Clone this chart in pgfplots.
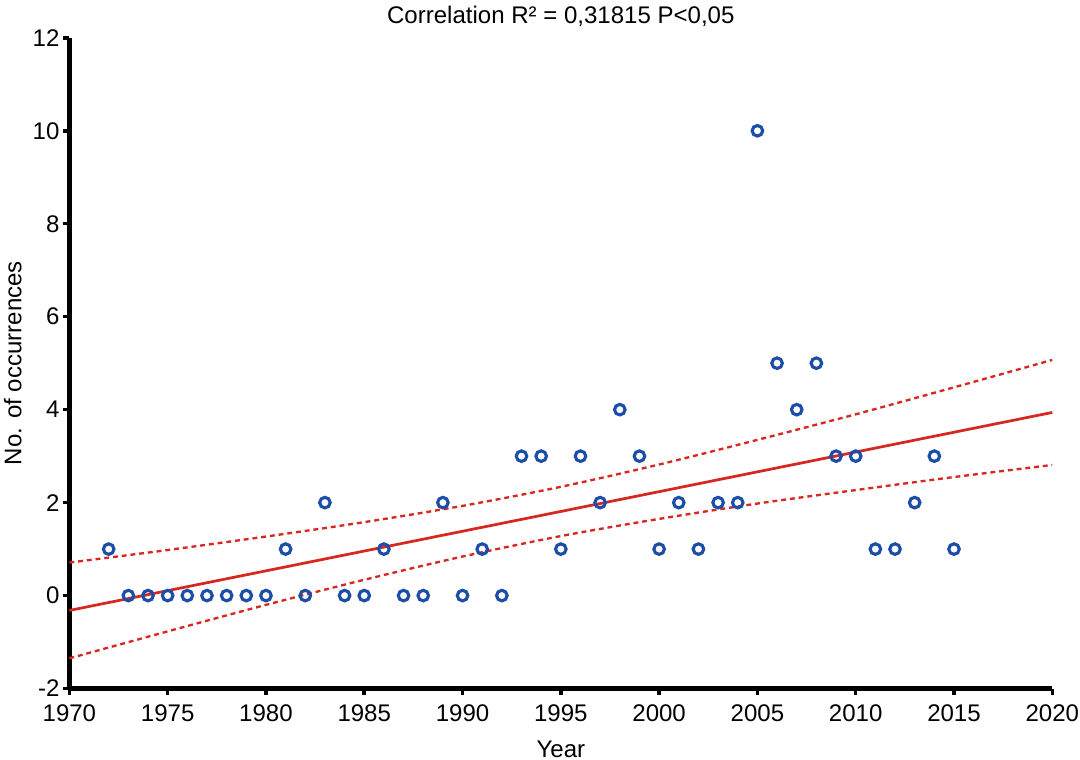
\documentclass[border=0pt]{standalone}
\usepackage{fontspec}
\setmainfont{Liberation Sans}
\usepackage{pgfplots}
\pgfplotsset{compat=1.18}
\definecolor{ptblue}{RGB}{28,78,168}
\definecolor{fitred}{RGB}{214,40,32}

\begin{document}
\begin{tikzpicture}
\begin{axis}[
    scale only axis,
    width=503pt, height=333pt,
    xmin=1970, xmax=2020,
    ymin=-2, ymax=12,
    xtick={1970,1975,...,2020},
    ytick={-2,0,...,12},
    axis x line*=bottom,
    axis y line*=left,
    axis line style={line width=2.2pt},
    tick style={line width=1.8pt, black},
    tick align=outside,
    major tick length=3.4pt,
    x tick label style={/pgf/number format/1000 sep={}, yshift=-1.5pt, inner xsep=0.5pt},
    y tick label style={xshift=-0.5pt, inner xsep=1pt},
    /pgf/number format/assume math mode=true,
    tick label style={font=\fontsize{12.3}{14}\selectfont},
    label style={font=\fontsize{12.3}{14}\selectfont},
    xlabel={Year},
    ylabel={No. of occurrences},
    xlabel style={yshift=-5pt, inner ysep=1pt},
    ylabel style={yshift=2.5pt, inner ysep=2pt},
    title={Correlation R² = 0,31815 P<0,05},
    title style={font=\fontsize{12.3}{14}\selectfont, yshift=-4pt},
    clip=false,
]
% confidence band
\addplot[fitred, line width=1.2pt, dash pattern=on 2.5pt off 2pt, smooth] coordinates {
(1970,0.71)(1975,0.98)(1980,1.27)(1985,1.58)(1990,1.93)(1995,2.34)
(2000,2.82)(2005,3.35)(2010,3.90)(2015,4.48)(2020,5.07)};
\addplot[fitred, line width=1.2pt, dash pattern=on 2.5pt off 2pt, smooth] coordinates {
(1970,-1.35)(1975,-0.77)(1980,-0.20)(1985,0.34)(1990,0.84)(1995,1.28)
(2000,1.65)(2005,1.98)(2010,2.27)(2015,2.55)(2020,2.81)};
% regression line
\addplot[fitred, line width=1.4pt] coordinates {(1970,-0.32)(2020,3.94)};
% observations
\addplot[only marks, mark=o, mark size=2.7pt, mark options={ptblue, line width=1.6pt}] coordinates {
(1972,1)(1973,0)(1974,0)(1975,0)(1976,0)(1977,0)(1978,0)(1979,0)(1980,0)
(1981,1)(1982,0)(1983,2)(1984,0)(1985,0)(1986,1)(1987,0)(1988,0)(1989,2)
(1990,0)(1991,1)(1992,0)(1993,3)(1994,3)(1995,1)(1996,3)(1997,2)(1998,4)
(1999,3)(2000,1)(2001,2)(2002,1)(2003,2)(2004,2)(2005,10)(2006,5)(2007,4)
(2008,5)(2009,3)(2010,3)(2011,1)(2012,1)(2013,2)(2014,3)(2015,1)};
\end{axis}
\end{tikzpicture}
\end{document}
